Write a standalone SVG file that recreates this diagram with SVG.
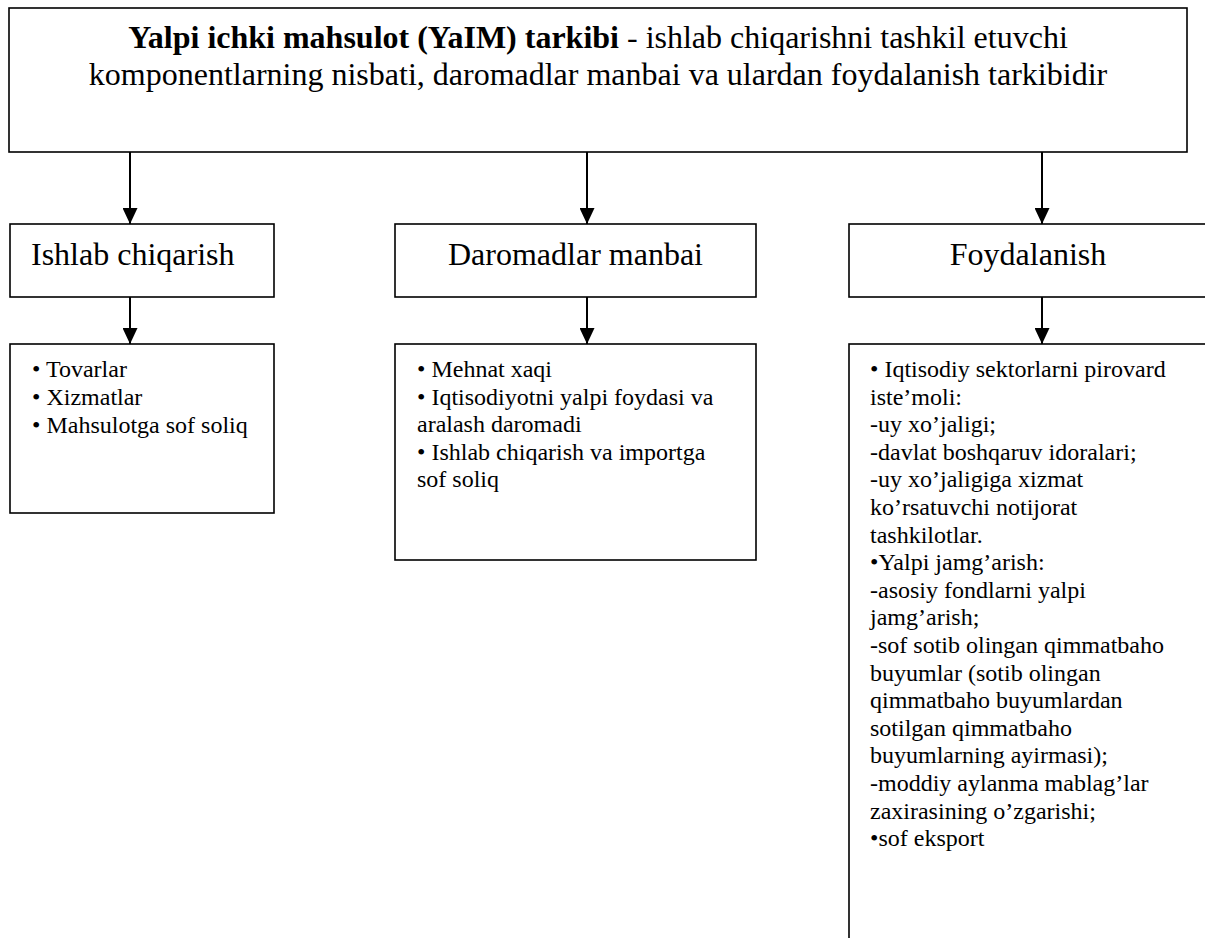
<svg xmlns="http://www.w3.org/2000/svg" width="1205" height="938" viewBox="0 0 1205 938">
  <style>
    .box { fill: #ffffff; stroke: #000000; stroke-width: 1.6; }
    .conn { stroke: #000000; stroke-width: 2; fill: none; }
    .t { font-family: "Liberation Serif", "Times New Roman", serif; fill: #000000; }
    .title { font-size: 32px; }
    .lbl { font-size: 32px; }
    .body { font-size: 24px; }
    .b { font-weight: bold; }
  </style>
  <defs>
    <marker id="arr" viewBox="0 0 16 15" refX="16" refY="7.5" markerWidth="16" markerHeight="15" markerUnits="userSpaceOnUse" orient="auto">
      <path d="M0,0 L16,7.5 L0,15 Z" fill="#000000"/>
    </marker>
  </defs>
  <rect width="1205" height="938" fill="#ffffff"/>

  <g id="connectors">
    <line class="conn" x1="130" y1="152" x2="130" y2="224" marker-end="url(#arr)"/>
    <line class="conn" x1="587" y1="152" x2="587" y2="224" marker-end="url(#arr)"/>
    <line class="conn" x1="1042" y1="152" x2="1042" y2="224" marker-end="url(#arr)"/>
    <line class="conn" x1="130" y1="297" x2="130" y2="344" marker-end="url(#arr)"/>
    <line class="conn" x1="587" y1="297" x2="587" y2="344" marker-end="url(#arr)"/>
    <line class="conn" x1="1042" y1="297" x2="1042" y2="344" marker-end="url(#arr)"/>
  </g>

  <g id="node-title">
    <rect class="box" x="9" y="8" width="1178" height="144"/>
    <text class="t title" x="598" y="48" text-anchor="middle"><tspan class="b">Yalpi ichki mahsulot (YaIM) tarkibi</tspan> - ishlab chiqarishni tashkil etuvchi</text>
    <text class="t title" x="598" y="85" text-anchor="middle">komponentlarning nisbati, daromadlar manbai va ulardan foydalanish tarkibidir</text>
  </g>

  <g id="node-ishlab">
    <rect class="box" x="10" y="224" width="264" height="73"/>
    <text class="t lbl" x="31" y="265">Ishlab chiqarish</text>
  </g>
  <g id="node-daromad">
    <rect class="box" x="395" y="224" width="361" height="73"/>
    <text class="t lbl" x="575.5" y="265" text-anchor="middle">Daromadlar manbai</text>
  </g>
  <g id="node-foydalanish">
    <rect class="box" x="849" y="224" width="358" height="73"/>
    <text class="t lbl" x="1028" y="265" text-anchor="middle">Foydalanish</text>
  </g>

  <g id="node-ishlab-list">
    <rect class="box" x="10" y="344" width="264" height="169"/>
    <text class="t body" x="32" y="377">• Tovarlar</text>
    <text class="t body" x="32" y="405">• Xizmatlar</text>
    <text class="t body" x="32" y="433">• Mahsulotga sof soliq</text>
  </g>

  <g id="node-daromad-list">
    <rect class="box" x="395" y="344" width="361" height="216"/>
    <text class="t body" x="417" y="377">• Mehnat xaqi</text>
    <text class="t body" x="417" y="404.6">• Iqtisodiyotni yalpi foydasi va</text>
    <text class="t body" x="417" y="432.2">aralash daromadi</text>
    <text class="t body" x="417" y="459.8">• Ishlab chiqarish va importga</text>
    <text class="t body" x="417" y="487.4">sof soliq</text>
  </g>

  <g id="node-foydalanish-list">
    <rect class="box" x="849" y="344" width="400" height="640"/>
    <text class="t body" x="870" y="377">• Iqtisodiy sektorlarni pirovard</text>
    <text class="t body" x="870" y="404.6">iste’moli:</text>
    <text class="t body" x="870" y="432.2">-uy xo’jaligi;</text>
    <text class="t body" x="870" y="459.8">-davlat boshqaruv idoralari;</text>
    <text class="t body" x="870" y="487.4">-uy xo’jaligiga xizmat</text>
    <text class="t body" x="870" y="515">ko’rsatuvchi notijorat</text>
    <text class="t body" x="870" y="542.6">tashkilotlar.</text>
    <text class="t body" x="870" y="570.2">•Yalpi jamg’arish:</text>
    <text class="t body" x="870" y="597.8">-asosiy fondlarni yalpi</text>
    <text class="t body" x="870" y="625.4">jamg’arish;</text>
    <text class="t body" x="870" y="653">-sof sotib olingan qimmatbaho</text>
    <text class="t body" x="870" y="680.6">buyumlar (sotib olingan</text>
    <text class="t body" x="870" y="708.2">qimmatbaho buyumlardan</text>
    <text class="t body" x="870" y="735.8">sotilgan qimmatbaho</text>
    <text class="t body" x="870" y="763.4">buyumlarning ayirmasi);</text>
    <text class="t body" x="870" y="791">-moddiy aylanma mablag’lar</text>
    <text class="t body" x="870" y="818.6">zaxirasining o’zgarishi;</text>
    <text class="t body" x="870" y="846.2">•sof eksport</text>
  </g>
</svg>
